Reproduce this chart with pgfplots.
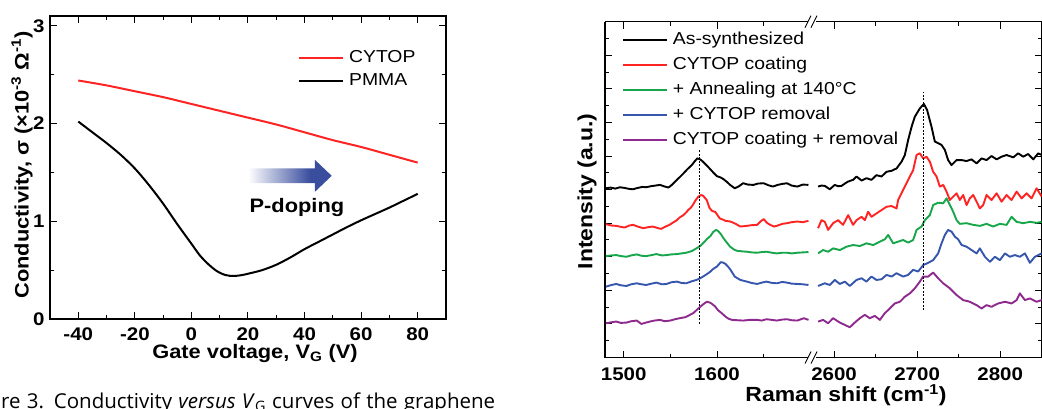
\documentclass[border=0pt]{standalone}
\usepackage{pgfplots}
\pgfplotsset{compat=1.18}
\usepackage{fontspec}
\setmainfont{Liberation Sans}[FakeStretch=1.12]
\newfontfamily\capfont{Open Sans}
\definecolor{cred}{HTML}{FF2424}
\definecolor{cgreen}{HTML}{17A64B}
\definecolor{cblue}{HTML}{3656AE}
\definecolor{cpurple}{HTML}{8E2A8E}
\definecolor{arrowblue}{HTML}{3A4E9E}
\pgfdeclarehorizontalshading{arrowshade}{100bp}{color(0bp)=(white); color(25bp)=(white); color(62bp)=(arrowblue); color(100bp)=(arrowblue)}
\pgfplotsset{
  common/.style={
    scale only axis,
    tick align=inside,
    major tick length=7pt,
    minor tick length=4pt,
    axis line style={line width=1.2pt},
    every tick/.style={line width=1pt, black},
    tick label style={font=\fontsize{18.3}{20}\selectfont\bfseries},
    /pgf/number format/assume math mode=true,
    /pgf/number format/1000 sep={},
    legend image code/.code={\draw[##1, line width=2pt] (0pt,0pt) -- (44pt,0pt);},
    legend cell align=left,
  },
  spec/.style={line width=1.9pt, line join=round},
}
\begin{document}
\begin{tikzpicture}
\useasboundingbox (0pt,0pt) rectangle (1042pt,408pt);
% ---------------- left panel ----------------
\begin{axis}[common, at={(50pt,89pt)}, anchor=south west, width=396pt, height=303pt,
  xmin=-50, xmax=90, ymin=0, ymax=3.1,
  xtick={-40,-20,0,20,40,60,80}, minor xtick={-30,-10,10,30,50,70},
  ytick={0,1,2,3}, minor ytick={0.5,1.5,2.5},
  xticklabel style={yshift=-5pt}, yticklabel style={xshift=-2pt},
  legend style={draw=none, fill=none, at={(rel axis cs:0.626,0.889)}, anchor=north west,
    inner sep=0pt, row sep=7pt, column sep=5pt, font=\fontsize{17.3}{19}\selectfont,
    nodes={inner sep=0pt, text height=12.5pt, text depth=3.5pt}}]
\addplot[cred, line width=2pt, smooth] coordinates {
(-40,2.44) (-30,2.39) (-20,2.33) (-10,2.27) (0,2.20) (10,2.13) (20,2.06) (30,1.99) (40,1.91) (50,1.83) (60,1.76) (70,1.68) (80,1.60)};
\addlegendentry{CYTOP}
\addplot[black, line width=2pt, smooth] coordinates {
(-40,2.02) (-35,1.91) (-30,1.80) (-25,1.68) (-20,1.54) (-15,1.37) (-10,1.18) (-5,0.97) (0,0.77) (3,0.65) (6,0.56) (9,0.49) (12,0.45) (15,0.44) (18,0.45) (21,0.47) (25,0.50) (30,0.555) (35,0.63) (40,0.715) (45,0.79) (50,0.865) (55,0.94) (60,1.01) (65,1.075) (70,1.14) (75,1.21) (80,1.28)};
\addlegendentry{PMMA}
\shade[shading=arrowshade] (axis cs:20,1.39) -- (axis cs:43.6,1.39) -- (axis cs:43.6,1.30) -- (axis cs:49.6,1.465) -- (axis cs:43.6,1.63) -- (axis cs:43.6,1.54) -- (axis cs:20,1.54) -- cycle;
\node[font=\fontsize{19.5}{21}\selectfont\bfseries] at (axis cs:37.3,1.14) {P-doping};
\end{axis}
% ---------------- right panel, left part ----------------
\begin{axis}[common, at={(605pt,50.5pt)}, anchor=south west, width=210pt, height=335.8pt,
  xmin=1480, xmax=1705, ymin=0, ymax=10,
  axis x line*=box, axis y line*=left,
  xtick={1500,1600}, minor xtick={1550,1650},
  ytick={0,1,...,10}, minor ytick={0.5,1.5,...,9.5}, yticklabels={},
  xticklabel style={yshift=-6.5pt},
  legend style={draw=none, fill=none, at={(rel axis cs:0.0795,0.9714)}, anchor=north west,
    inner sep=0pt, row sep=9pt, column sep=5pt, font=\fontsize{17.3}{19}\selectfont,
    nodes={inner sep=0pt, text height=12.5pt, text depth=3.5pt}}]
\addplot[black, spec] coordinates {
(1481,5.04) (1486,5.06) (1491,5.03) (1496,5.07) (1501,5.05) (1506,5.02) (1510,5.01) (1515,5.05) (1520,5.08) (1524,5.07) (1529,5.10) (1534,5.12) (1539,5.14) (1543,5.10) (1548,5.06) (1552,5.15) (1556,5.26) (1560,5.37) (1564,5.48) (1568,5.60) (1573,5.73) (1576,5.84) (1579,5.93) (1582,5.90) (1585,5.83) (1589,5.72) (1593,5.60) (1597,5.48) (1600,5.40) (1604,5.36) (1607,5.31) (1611,5.22) (1614,5.14) (1619,5.04) (1623,5.09) (1628,5.19) (1633,5.15) (1639,5.14) (1644,5.18) (1650,5.19) (1655,5.13) (1660,5.09) (1665,5.14) (1670,5.17) (1675,5.19) (1680,5.12) (1686,5.09) (1692,5.15) (1698,5.14)};
\addlegendentry{As-synthesized}
\addplot[cred, spec] coordinates {
(1481,3.97) (1487,3.93) (1492,3.92) (1497,3.89) (1501,3.87) (1506,3.93) (1510,3.95) (1515,3.90) (1521,3.85) (1526,3.88) (1531,3.90) (1536,3.86) (1540,3.83) (1545,3.90) (1549,3.95) (1553,4.02) (1557,4.09) (1560,4.17) (1564,4.24) (1567,4.32) (1569,4.39) (1572,4.46) (1574,4.54) (1577,4.68) (1580,4.79) (1583,4.84) (1585,4.82) (1589,4.69) (1592,4.45) (1595,4.36) (1598,4.34) (1603,4.14) (1607,4.10) (1609,4.07) (1614,4.05) (1616,4.03) (1620,3.98) (1625,3.90) (1632,3.92) (1637,3.94) (1643,3.95) (1647,4.06) (1650,4.12) (1654,4.00) (1657,3.95) (1661,3.90) (1664,3.92) (1670,3.98) (1675,4.00) (1680,4.03) (1686,4.05) (1692,4.03) (1698,4.07)};
\addlegendentry{CYTOP coating}
\addplot[cgreen, spec] coordinates {
(1481,3.02) (1487,3.04) (1492,3.05) (1497,3.02) (1503,3.00) (1508,3.04) (1514,3.07) (1519,3.03) (1524,3.02) (1530,3.05) (1535,3.08) (1541,3.04) (1546,3.05) (1551,3.07) (1557,3.08) (1562,3.10) (1567,3.12) (1573,3.17) (1578,3.25) (1582,3.32) (1585,3.40) (1589,3.52) (1593,3.62) (1596,3.74) (1599,3.80) (1601,3.77) (1604,3.68) (1607,3.55) (1610,3.44) (1614,3.30) (1618,3.22) (1621,3.18) (1627,3.16) (1632,3.15) (1637,3.13) (1643,3.12) (1648,3.14) (1653,3.15) (1659,3.12) (1664,3.10) (1670,3.12) (1675,3.12) (1680,3.10) (1686,3.12) (1692,3.13) (1698,3.14)};
\addlegendentry{+ Annealing at 140°C}
\addplot[cblue, spec] coordinates {
(1481,2.11) (1487,2.16) (1492,2.19) (1497,2.15) (1503,2.13) (1508,2.18) (1514,2.21) (1519,2.18) (1524,2.16) (1530,2.20) (1535,2.23) (1541,2.18) (1546,2.19) (1551,2.24) (1557,2.26) (1562,2.22) (1567,2.21) (1573,2.27) (1578,2.31) (1582,2.36) (1585,2.41) (1589,2.48) (1593,2.56) (1596,2.64) (1600,2.71) (1604,2.84) (1606,2.83) (1609,2.79) (1612,2.70) (1614,2.63) (1617,2.50) (1619,2.41) (1625,2.31) (1632,2.26) (1637,2.22) (1643,2.19) (1648,2.23) (1653,2.26) (1659,2.22) (1664,2.21) (1670,2.25) (1675,2.23) (1680,2.20) (1686,2.19) (1692,2.18) (1698,2.16)};
\addlegendentry{+ CYTOP removal}
\addplot[cpurple, spec] coordinates {
(1481,1.02) (1487,1.05) (1492,1.07) (1497,1.03) (1503,1.04) (1508,1.08) (1514,1.10) (1519,1.00) (1524,1.04) (1528,1.07) (1533,1.10) (1539,1.12) (1544,1.08) (1550,1.10) (1555,1.14) (1560,1.17) (1566,1.20) (1571,1.27) (1575,1.33) (1578,1.41) (1582,1.51) (1585,1.58) (1589,1.66) (1592,1.64) (1594,1.61) (1598,1.52) (1601,1.41) (1605,1.32) (1609,1.22) (1612,1.16) (1616,1.12) (1622,1.11) (1628,1.10) (1635,1.12) (1643,1.12) (1648,1.10) (1653,1.14) (1659,1.12) (1664,1.10) (1670,1.13) (1675,1.14) (1680,1.11) (1686,1.10) (1693,1.17) (1698,1.12)};
\addlegendentry{CYTOP coating + removal}
\addplot[black, line width=0.7pt, dash pattern=on 2pt off 1.5pt, forget plot] coordinates {(1581,1.0) (1581,6.2)};
\end{axis}
% ---------------- right panel, right part ----------------
\begin{axis}[common, at={(815pt,50.5pt)}, anchor=south west, width=226.7pt, height=335.8pt,
  xmin=2577, xmax=2850, ymin=0, ymax=10,
  axis x line*=box, axis y line*=right,
  xtick={2600,2700,2800}, minor xtick={2650,2750,2850},
  ytick={0,1,...,10}, minor ytick={0.5,1.5,...,9.5}, yticklabels={},
  xticklabel style={yshift=-6.5pt}]
\addplot[black, spec] coordinates {
(2580.7,5.09) (2584.8,5.12) (2588.8,5.11) (2594.8,5.01) (2600.8,5.14) (2604.8,5.10) (2608.9,5.11) (2612.9,5.18) (2616.9,5.24) (2622.9,5.29) (2627,5.39) (2633,5.27) (2639,5.34) (2645,5.29) (2651,5.43) (2657.1,5.39) (2663.1,5.53) (2669.2,5.56) (2675.2,5.63) (2681.2,5.83) (2685.2,6.03) (2689.2,6.48) (2693.3,6.87) (2697.2,7.17) (2703.3,7.42) (2708.1,7.55) (2712,7.37) (2717.3,6.87) (2721.3,6.43) (2725.3,6.38) (2729.4,6.33) (2733.4,6.18) (2737.3,5.88) (2741.4,5.73) (2747.5,5.88) (2753.5,5.88) (2759.5,5.85) (2765.5,5.90) (2771.6,5.78) (2777.6,5.93) (2783.6,5.88) (2789.6,6.00) (2795.7,5.90) (2801.7,5.98) (2807.7,6.03) (2815.7,5.96) (2821.7,6.08) (2827.7,5.98) (2833.7,6.06) (2839.8,5.90) (2845.8,6.08) (2850,6.03)};
\addplot[cred, spec] coordinates {
(2580.7,3.85) (2584.8,4.09) (2588.8,4.04) (2592.8,3.80) (2598.8,4.00) (2604.8,4.09) (2610.8,3.95) (2616.9,4.24) (2622.9,3.95) (2627,4.09) (2633,4.19) (2637,4.09) (2641,4.34) (2645,4.19) (2651,4.29) (2657.1,4.39) (2663.1,4.49) (2669.2,4.51) (2675.2,4.44) (2677.1,4.69) (2683.1,4.99) (2689.2,5.29) (2695.2,5.58) (2699.3,6.03) (2703.3,6.08) (2707.2,5.93) (2711.3,5.98) (2715.3,5.83) (2719.3,5.53) (2723.4,5.39) (2727.3,5.09) (2731.3,5.14) (2735.4,4.94) (2739.4,4.69) (2743.4,4.79) (2747.5,4.89) (2751.4,4.69) (2755.4,4.84) (2759.5,4.54) (2763.5,4.74) (2767.5,4.84) (2771.6,4.64) (2775.5,4.44) (2779.5,4.54) (2783.6,4.84) (2789.6,4.69) (2795.7,4.89) (2801.7,4.64) (2807.7,4.84) (2813.7,4.69) (2819.8,4.94) (2825.8,4.74) (2831.8,4.89) (2837.8,4.74) (2843.9,5.04) (2850,4.79)};
\addplot[cgreen, spec] coordinates {
(2580.7,3.10) (2586.7,3.20) (2592.8,3.15) (2598.8,3.25) (2606.9,3.20) (2614.9,3.30) (2622.9,3.35) (2631,3.32) (2639,3.40) (2647,3.35) (2655.1,3.45) (2661.1,3.52) (2665.1,3.65) (2671.1,3.40) (2677.1,3.45) (2683.1,3.50) (2689.2,3.42) (2695.2,3.50) (2699.3,3.80) (2705.3,3.90) (2709.3,4.09) (2715.3,4.24) (2719.3,4.54) (2725.3,4.61) (2731.3,4.59) (2735.4,4.74) (2739.4,4.54) (2743.4,4.34) (2747.5,4.09) (2751.4,3.98) (2759.5,4.00) (2767.5,3.95) (2775.5,3.92) (2783.6,3.98) (2791.6,3.90) (2799.6,3.98) (2807.7,3.95) (2813.7,4.19) (2819.8,4.04) (2827.7,4.00) (2835.8,4.04) (2843.9,4.01) (2850,4.04)};
\addplot[cblue, spec] coordinates {
(2580.7,2.13) (2588.8,2.21) (2594.8,2.16) (2600.8,2.31) (2606.9,2.19) (2612.9,2.26) (2618.9,2.13) (2627,2.31) (2633,2.36) (2639,2.26) (2645,2.41) (2651,2.31) (2657.1,2.33) (2663.1,2.46) (2669.2,2.41) (2675.2,2.51) (2683.1,2.41) (2689.2,2.46) (2695.2,2.61) (2701.2,2.56) (2707.2,2.75) (2713.3,2.82) (2719.3,2.90) (2725.3,3.10) (2729.4,3.40) (2733.4,3.65) (2737.3,3.80) (2741.4,3.75) (2745.4,3.60) (2749.4,3.52) (2753.5,3.35) (2759.5,3.30) (2765.5,3.20) (2771.6,3.10) (2775.5,3.25) (2781.6,3.00) (2787.6,2.85) (2793.6,3.00) (2799.6,2.90) (2805.7,3.10) (2811.7,3.00) (2817.7,3.05) (2823.7,3.00) (2829.8,3.10) (2835.8,2.82) (2841.8,3.00) (2850,3.10)};
\addplot[cpurple, spec] coordinates {
(2580.7,1.07) (2586.7,1.12) (2592.8,1.02) (2598.8,1.17) (2606.9,1.04) (2612.9,0.97) (2618.9,0.90) (2624.9,1.04) (2631,1.17) (2637,1.27) (2643,1.17) (2649,1.24) (2655.1,1.12) (2661.1,1.32) (2667.1,1.46) (2673.1,1.61) (2679.2,1.66) (2685.2,1.81) (2691.2,1.91) (2697.2,2.06) (2703.3,2.26) (2707.2,2.41) (2713.3,2.41) (2719.3,2.53) (2725.3,2.36) (2731.3,2.21) (2739.4,2.06) (2747.5,1.86) (2755.4,1.71) (2763.5,1.66) (2771.6,1.56) (2777.6,1.46) (2783.6,1.56) (2789.6,1.51) (2797.6,1.61) (2805.7,1.66) (2813.7,1.61) (2819.8,1.71) (2823.7,1.91) (2829.8,1.71) (2835.8,1.76) (2843.9,1.66) (2850,1.71)};
\addplot[black, line width=0.7pt, dash pattern=on 2pt off 1.5pt] coordinates {(2707,1.41) (2707,7.9)};
\end{axis}
% axis break marks
\fill[white] (808pt,48pt) rectangle (816pt,53pt);
\fill[white] (808pt,383.8pt) rectangle (816pt,388.8pt);
\draw[line width=0.9pt] (805pt,44.5pt) -- (811pt,56.5pt) (811pt,44.5pt) -- (817pt,56.5pt);
\draw[line width=0.9pt] (805pt,380.3pt) -- (811pt,392.3pt) (811pt,380.3pt) -- (817pt,392.3pt);
% axis labels
\node[rotate=90, font=\fontsize{19.5}{21}\selectfont\bfseries] at (22pt,243pt) {Conductivity, σ (×10\textsuperscript{-3} Ω\textsuperscript{-1})};
\node[anchor=base, font=\fontsize{19.5}{21}\selectfont\bfseries] at (255pt,50pt) {Gate voltage, V\textsubscript{G} (V)};
\node[rotate=90, font=\fontsize{20.5}{22}\selectfont\bfseries] at (587pt,216.5pt) {Intensity (a.u.)};
\node[anchor=base, font=\fontsize{20.5}{22}\selectfont\bfseries] at (846pt,6.3pt) {Raman shift (cm\textsuperscript{-1})};
% caption fragment
\node[anchor=base west, inner sep=0pt] at (1pt,0pt) {\capfont\fontsize{20.5}{22}\selectfont\makebox[494pt][s]{re 3. Conductivity \textit{versus} \textit{V}\textsubscript{G} curves of the graphene}};
\end{tikzpicture}
\end{document}
